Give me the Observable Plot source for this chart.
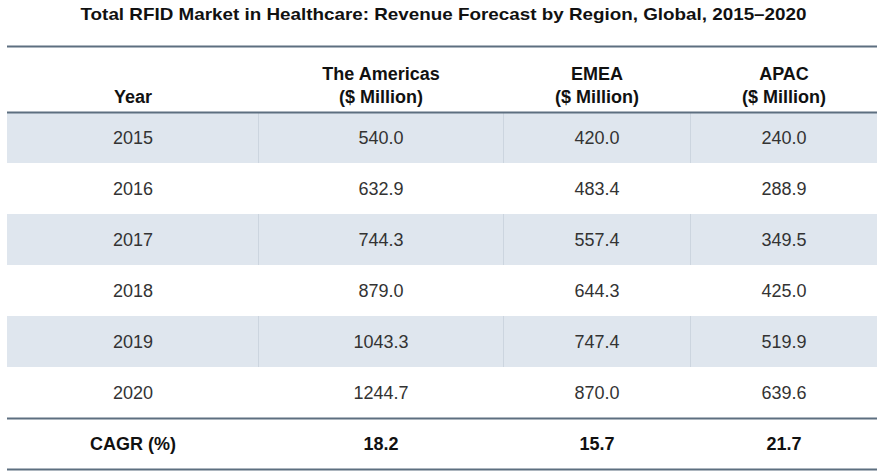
<!DOCTYPE html>
<html>
<head>
<meta charset="utf-8">
<script src="https://cdn.jsdelivr.net/npm/d3@7"></script>
<script src="https://cdn.jsdelivr.net/npm/@observablehq/plot@0.6"></script>
<style>
  html, body { margin: 0; padding: 0; background: #ffffff; }
  #chart svg { display: block; }
</style>
</head>
<body>
<div id="chart"></div>
<script>
// ---- data ----
const title = "Total RFID Market in Healthcare: Revenue Forecast by Region, Global, 2015–2020";
const headers = ["Year", "The Americas\n($ Million)", "EMEA\n($ Million)", "APAC\n($ Million)"];
const years = [2015, 2016, 2017, 2018, 2019, 2020];
const americas = [540.0, 632.9, 744.3, 879.0, 1043.3, 1244.7];
const emea = [420.0, 483.4, 557.4, 644.3, 747.4, 870.0];
const apac = [240.0, 288.9, 349.5, 425.0, 519.9, 639.6];
const cagrLabel = "CAGR (%)";
const cagr = [18.2, 15.7, 21.7];

// ---- layout ----
const W = 886, H = 474;
const colEdges = [7, 258, 503, 690, 877];
const titleWidth = 726;
const fmt = d3.format(".1f");
const series = [americas, emea, apac];

// table cells built from the arrays
const bodyCells = [];
years.forEach((yr, r) => {
  bodyCells.push({col: 0, row: r, text: String(yr)});
  series.forEach((s, c) => bodyCells.push({col: c + 1, row: r, text: fmt(s[r])}));
});
const shaded = [];
years.forEach((yr, r) => { if (r % 2 === 0) for (let c = 0; c < 4; c++) shaded.push({col: c, row: r}); });
const seps = [];
years.forEach((yr, r) => { if (r % 2 === 0) for (let c = 1; c < 4; c++) seps.push({col: c, row: r}); });
const cagrCells = [{col: 0, text: cagrLabel}].concat(cagr.map((v, i) => ({col: i + 1, text: fmt(v)})));
const headerCells = headers.map((h, i) => ({col: i, text: h}));
const headerTop = -66 / 51;
const rules = [headerTop, 0, years.length, years.length + 1];

const chart = Plot.plot({
  width: W,
  height: H,
  margin: 0,
  x: {type: "linear", domain: [0, 1, 2, 3, 4], range: colEdges, axis: null},
  y: {type: "linear", domain: [0, years.length], range: [112, 418], axis: null},
  style: {fontFamily: "Arial, 'Liberation Sans', sans-serif", background: "#ffffff"},
  marks: [
    Plot.rect(shaded, {x1: "col", x2: d => d.col + 1, y1: "row", y2: d => d.row + 1, fill: "#dfe6ee"}),
    Plot.ruleX(seps, {x: "col", y1: "row", y2: d => d.row + 1, stroke: "#ccd5df", strokeWidth: 1}),
    Plot.ruleY(rules, {y: d => d, x1: 0, x2: 4, stroke: "#5d6f80", strokeWidth: 2}),
    Plot.text(bodyCells, {x: d => d.col + 0.5, y: d => d.row + 0.5, text: "text", fontSize: 18, fill: "#333333"}),
    Plot.text(cagrCells, {x: d => d.col + 0.5, y: years.length + 0.5, text: "text", fontSize: 18, fontWeight: "bold", fill: "#111111"}),
    Plot.text(headerCells, {x: d => d.col + 0.5, y: -0.18, text: "text", lineAnchor: "bottom", lineHeight: 1.3, fontSize: 18, fontWeight: "bold", fill: "#111111"}),
    Plot.text([title], {frameAnchor: "top", dy: 7, text: d => d, fontSize: 17, fontWeight: "bold", fill: "#111111", className: "chart-title"})
  ]
});
d3.select(chart).selectAll(".chart-title text")
  .attr("textLength", titleWidth)
  .attr("lengthAdjust", "spacingAndGlyphs");
document.getElementById("chart").append(chart);
</script>
</body>
</html>
